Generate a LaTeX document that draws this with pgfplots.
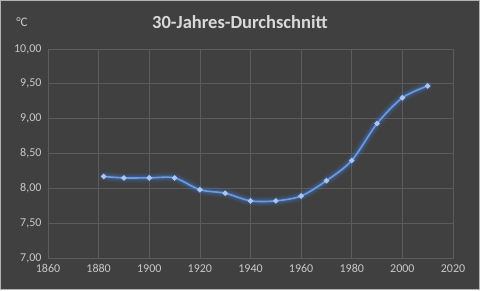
\documentclass[border=0pt]{standalone}
\usepackage{fontspec}
\setmainfont{Carlito}
\usepackage{pgfplots}
\pgfplotsset{compat=1.18}
\definecolor{bg}{HTML}{404040}
\definecolor{gridc}{HTML}{5C5C5C}
\definecolor{txt}{HTML}{C8C8C8}
\definecolor{ttl}{HTML}{D9D9D9}
\definecolor{lineblue}{HTML}{6E9BE0}
\definecolor{glow}{HTML}{3E74C8}
\definecolor{markc}{HTML}{AAC6F0}
\begin{document}
\begin{tikzpicture}
\fill[bg] (0pt,0pt) rectangle (480pt,290pt);
\draw[gray!60, line width=0.8pt] (0.4pt,0.4pt) rectangle (479.6pt,289.6pt);
\node[text=ttl, font=\fontsize{18.5}{20}\selectfont\bfseries] at (240pt,268pt) {30-Jahres-Durchschnitt};
\node[text=txt, font=\fontsize{13}{14}\selectfont] at (22pt,268pt) {°C};
\begin{axis}[
  at={(48pt,32pt)}, anchor=south west,
  scale only axis, width=405pt, height=209pt,
  xmin=1860, xmax=2020, ymin=7, ymax=10,
  xtick={1860,1880,...,2020},
  ytick={7,7.5,...,10},
  grid=major,
  major grid style={gridc, line width=0.7pt},
  axis line style={gridc, line width=0.7pt},
  tick style={draw=none},
  ticklabel style={text=txt, font=\fontsize{12}{14}\selectfont},
  /pgf/number format/assume math mode=true,
  x tick label style={/pgf/number format/1000 sep={}, yshift=-3pt},
  y tick label style={/pgf/number format/fixed, /pgf/number format/fixed zerofill, /pgf/number format/precision=2, /pgf/number format/use comma, xshift=-3pt},
]
\pgfplotstableread{
x y
1882 8.17
1890 8.15
1900 8.15
1910 8.15
1920 7.98
1930 7.93
1940 7.82
1950 7.82
1960 7.89
1970 8.11
1980 8.40
1990 8.93
2000 9.30
2010 9.47
}\data
\addplot[smooth, tension=0.5, glow, opacity=0.10, line width=10pt, line cap=round, line join=round] table {\data};
\addplot[smooth, tension=0.5, glow, opacity=0.18, line width=7pt, line cap=round, line join=round] table {\data};
\addplot[smooth, tension=0.5, glow, opacity=0.3, line width=4pt, line cap=round, line join=round] table {\data};
\addplot[smooth, tension=0.5, lineblue, line width=1.6pt, mark=*, mark size=1.8pt, mark options={fill=markc, draw=markc}] table {\data};
\end{axis}
\end{tikzpicture}
\end{document}
